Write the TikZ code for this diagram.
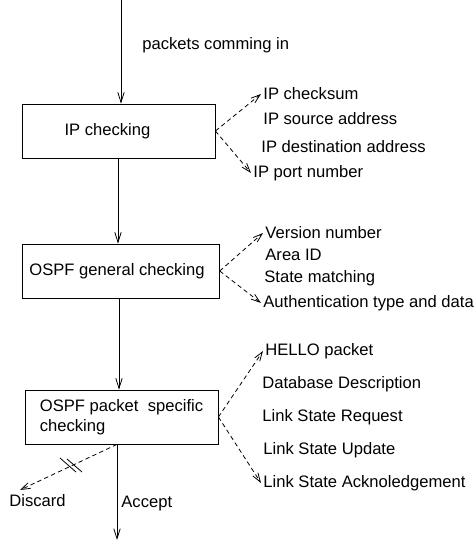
\documentclass[tikz,border=0pt]{standalone}
\usepackage{fontspec}
\setmainfont{Liberation Sans}
\usepackage{tikz}
\usetikzlibrary{arrows.meta, positioning, calc}
\tikzset{
  checkbox/.style={
    draw, thin, minimum width=96.5pt, minimum height=27pt,
    font=\fontsize{8.3}{10}\selectfont
  },
  itemlabel/.style={
    anchor=west, inner sep=1pt, font=\fontsize{8.3}{10}\selectfont
  },
  flowarrow/.style={
    -{Straight Barb[length=5pt, width=3.2pt]}, thin
  },
  testarrow/.style={
    -{Straight Barb[length=4.5pt, width=3pt]}, thin,
    dash pattern=on 2.2pt off 1.6pt
  },
}

\begin{document}
\begin{tikzpicture}[x=0.5pt, y=-0.5pt]
  \useasboundingbox (0,0) rectangle (475,541);

  % Boxes
  \node[checkbox] (ip) at (118.5,131) {IP checking\hspace*{11pt}};
  \node[checkbox] (gen) at (121,271) {OSPF general checking\hspace*{4pt}};
  \node[checkbox, align=left] (spec) at (121.5,417)
    {OSPF packet\ \ specific\\checking\hspace*{36pt}};

  % Main flow
  \coordinate (in) at (121,0);
  \coordinate (out) at (117,540);
  \draw[flowarrow] (in) -- (in |- ip.north);
  \node[itemlabel] (inlbl) at (140,45) {packets comming in};
  \draw[flowarrow] (ip.south -| 118,0) -- (gen.north -| 118,0);
  \draw[flowarrow] (gen.south -| 119,0) -- (spec.north -| 119,0);
  \draw[flowarrow] (spec.south -| 117,0) -- (out);
  \node[itemlabel] (acc) at (119,504) {Accept};

  % IP checks
  \node[itemlabel] (ip1) at (261,94) {IP checksum};
  \node[itemlabel] (ip2) at (261,119) {IP source address};
  \node[itemlabel] (ip3) at (259,147) {IP destination address};
  \node[itemlabel] (ip4) at (251,173) {IP port number};
  \draw[testarrow] (ip.east) -- (ip1.west);
  \draw[testarrow] (ip.east) -- (ip4.west);

  % OSPF general checks
  \node[itemlabel] (gen1) at (263,233) {Version number};
  \node[itemlabel] (gen2) at (263,255) {Area ID};
  \node[itemlabel] (gen3) at (262,278) {State matching};
  \node[itemlabel] (gen4) at (261,303) {Authentication type and data};
  \draw[testarrow] (gen.east) -- (gen1.west);
  \draw[testarrow] (gen.east) -- (gen4.west);

  % OSPF packet specific checks
  \node[itemlabel] (spec1) at (263,351) {HELLO packet};
  \node[itemlabel] (spec2) at (260,384) {Database Description};
  \node[itemlabel] (spec3) at (260,417) {Link State Request};
  \node[itemlabel] (spec4) at (261,450) {Link State Update};
  \node[itemlabel] (spec5) at (261,483) {Link State Acknoledgement};
  \draw[testarrow] (spec.east) -- (spec1.west);
  \draw[testarrow] (spec.east) -- (spec5.west);

  % Discard
  \node[itemlabel] (dis) at (7,501) {Discard};
  \coordinate (dtip) at (20,490);
  \draw[testarrow] (spec.south -| 117,0) -- (dtip);
  \draw[thin] (60,458) -- (76,472);
  \draw[thin] (67,459) -- (82,472);
\end{tikzpicture}
\end{document}
